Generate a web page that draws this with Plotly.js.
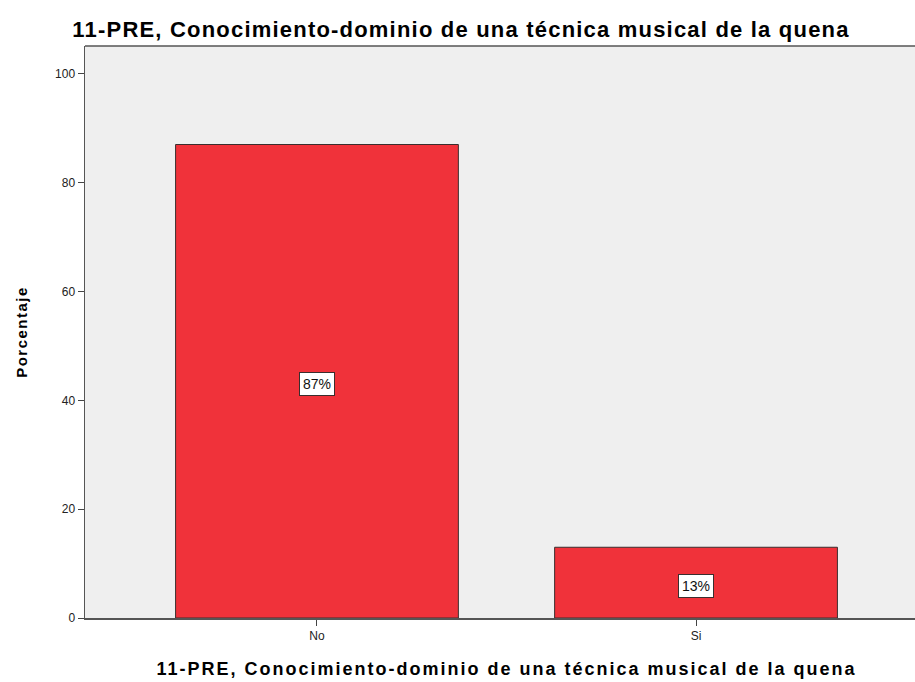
<!DOCTYPE html>
<html>
<head>
<meta charset="utf-8">
<script src="https://cdn.plot.ly/plotly-3.0.1.min.js"></script>
<style>
html,body{margin:0;padding:0;background:#fff;overflow:hidden;}
#wrap{width:915px;height:682px;overflow:hidden;position:relative;}
#chart{width:928px;height:682px;}
.gtitle{letter-spacing:1.2px;}
.xtitle{letter-spacing:2px;}
.ytitle{letter-spacing:1.5px;}
</style>
</head>
<body>
<div id="wrap"><div id="chart"></div></div>
<script>
var categories = ["No", "Si"];
var percentages = [87, 13];
var labels = ["87%", "13%"];
var yTicks = [0, 20, 40, 60, 80, 100];
var titleText = "11-PRE, Conocimiento-dominio de una técnica musical de la quena";

var FONT = "Liberation Sans, Arial, sans-serif";

var trace = {
  type: "bar",
  x: categories,
  y: percentages,
  width: 0.746,
  marker: {color: "#f0323a", line: {color: "#3a2e2e", width: 1}},
  hoverinfo: "none"
};

var annotations = categories.map(function (c, i) {
  return {
    x: c, y: percentages[i] / 2, xref: "x", yref: "y",
    text: labels[i], showarrow: false, yshift: -3,
    font: {family: FONT, size: 14, color: "#111"},
    bgcolor: "#ffffff", bordercolor: "#3a2e2e", borderwidth: 1, borderpad: 3
  };
});

var layout = {
  width: 928, height: 682,
  margin: {l: 85, r: 0, t: 46, b: 64},
  paper_bgcolor: "#ffffff",
  plot_bgcolor: "#efefef",
  showlegend: false,
  title: {
    text: titleText,
    font: {family: FONT, size: 22, color: "#000", weight: "bold"},
    x: 461 / 928, xanchor: "center", xref: "container",
    y: 1 - 29 / 682, yanchor: "middle", yref: "container"
  },
  xaxis: {
    type: "category",
    range: [-0.612, 1.612],
    showgrid: false, zeroline: false,
    showline: true, linecolor: "#555", linewidth: 1.5,
    ticks: "outside", ticklen: 6, tickcolor: "#444", tickwidth: 1,
    tickfont: {family: FONT, size: 12, color: "#222"},
    title: {
      text: titleText,
      font: {family: FONT, size: 18, color: "#000", weight: "bold"},
      standoff: 20
    }
  },
  yaxis: {
    range: [0, 105.1],
    tickvals: yTicks,
    showgrid: false, zeroline: false,
    showline: true, linecolor: "#555", linewidth: 1.5, mirror: false,
    ticks: "outside", ticklen: 6, tickcolor: "#444", tickwidth: 1,
    tickfont: {family: FONT, size: 12, color: "#222"},
    title: {
      text: "Porcentaje",
      font: {family: FONT, size: 15, color: "#000", weight: "bold"},
      standoff: 24
    }
  },
  shapes: [{
    type: "line", xref: "paper", yref: "paper", x0: 0, x1: 1, y0: 1, y1: 1,
    line: {color: "#555", width: 1.5}
  }],
  annotations: annotations
};

Plotly.newPlot("chart", [trace], layout, {displayModeBar: false, staticPlot: true});
</script>
</body>
</html>
